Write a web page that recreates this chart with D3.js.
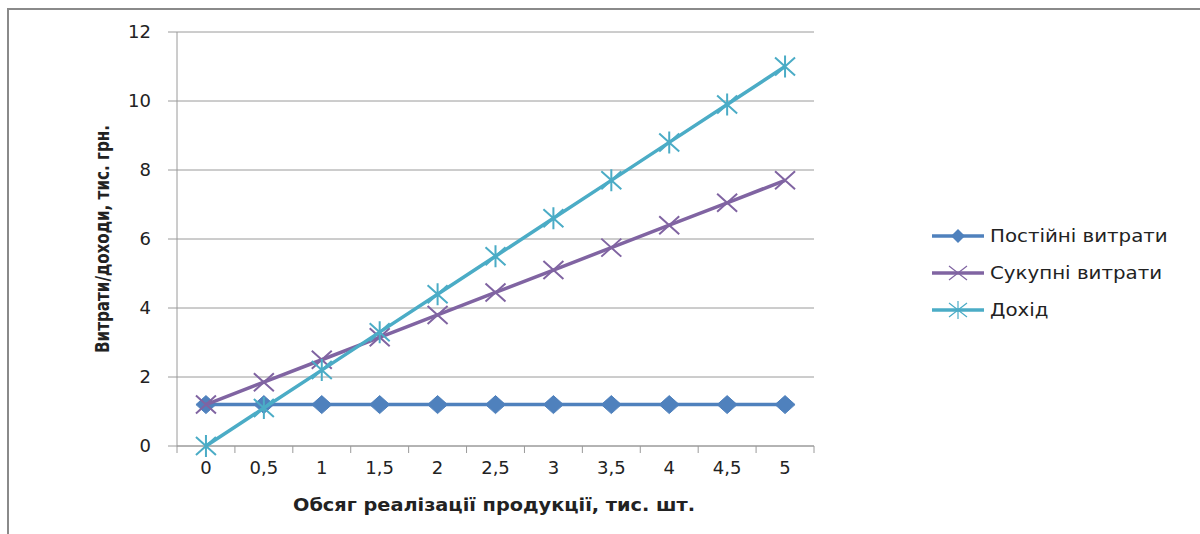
<!DOCTYPE html>
<html>
<head>
<meta charset="utf-8">
<script src="https://cdn.jsdelivr.net/npm/d3@7"></script>
<style>
  body { margin: 0; background: #fff; }
  text { font-family: "DejaVu Sans", sans-serif; fill: #222; }
  .grid line { stroke: #9a9a9a; stroke-width: 1px; }
  .axis path, .axis line { stroke: #9a9a9a; }
  .axis text { font-size: 18px; font-family: "DejaVu Sans", sans-serif; fill: #222; }
  .ttl { font-weight: bold; }
</style>
</head>
<body>
<svg width="1200" height="534"></svg>
<script>
var categories = ["0", "0,5", "1", "1,5", "2", "2,5", "3", "3,5", "4", "4,5", "5"];
var fixedCosts = [1.2, 1.2, 1.2, 1.2, 1.2, 1.2, 1.2, 1.2, 1.2, 1.2, 1.2];
var totalCosts = [1.2, 1.85, 2.5, 3.15, 3.8, 4.45, 5.1, 5.75, 6.4, 7.05, 7.7];
var revenue = [0, 1.1, 2.2, 3.3, 4.4, 5.5, 6.6, 7.7, 8.8, 9.9, 11];
var yTicks = [0, 2, 4, 6, 8, 10, 12];
var seriesNames = ["Постійні витрати", "Сукупні витрати", "Дохід"];

var series = [
  { name: seriesNames[0], values: fixedCosts, color: "#4f81bd", marker: "diamond" },
  { name: seriesNames[1], values: totalCosts, color: "#8064a2", marker: "cross" },
  { name: seriesNames[2], values: revenue, color: "#4bacc6", marker: "star" }
];

var svg = d3.select("svg");

// outer frame (only top and left edges visible)
svg.append("path")
  .attr("d", "M8,534 L8,9 L1200,9")
  .attr("fill", "none")
  .attr("stroke", "#8a8a8a")
  .attr("stroke-width", 2);

var pLeft = 177, pRight = 814, pTop = 32, pBottom = 446;

var x = d3.scaleBand().domain(categories).range([pLeft, pRight]);
var y = d3.scaleLinear().domain([0, 12]).range([pBottom, pTop]);

// gridlines
svg.append("g").attr("class", "grid")
  .selectAll("line").data(yTicks).enter().append("line")
  .attr("x1", pLeft - 9).attr("x2", pRight)
  .attr("y1", function(d) { return y(d); })
  .attr("y2", function(d) { return y(d); });

// y axis
var yAxis = svg.append("g").attr("class", "axis")
  .attr("transform", "translate(" + pLeft + ",0)")
  .call(d3.axisLeft(y).tickValues(yTicks).tickSize(0).tickPadding(26));
yAxis.select(".domain").attr("d", "M0," + pTop + "V" + pBottom);

// x axis with ticks at category boundaries
var xAxis = svg.append("g").attr("class", "axis")
  .attr("transform", "translate(0," + pBottom + ")")
  .call(d3.axisBottom(x).tickSize(0).tickPadding(15));
xAxis.select(".domain").attr("d", "M" + pLeft + ",0H" + pRight);
xAxis.selectAll("text").attr("dy", "0.72em");
var bounds = categories.map(function(c) { return x(c); }).concat([pRight]);
xAxis.selectAll("line.b").data(bounds).enter().append("line")
  .attr("class", "b")
  .attr("x1", function(d) { return d; }).attr("x2", function(d) { return d; })
  .attr("y1", 0).attr("y2", 7);

// axis titles
svg.append("text").attr("class", "ttl")
  .attr("x", 494).attr("y", 511)
  .attr("text-anchor", "middle")
  .style("font-size", "18px")
  .attr("textLength", 402).attr("lengthAdjust", "spacingAndGlyphs")
  .text("Обсяг реалізації продукції, тис. шт.");

svg.append("text").attr("class", "ttl")
  .attr("transform", "translate(109,239) rotate(-90)")
  .attr("text-anchor", "middle")
  .style("font-size", "20px")
  .attr("textLength", 228).attr("lengthAdjust", "spacingAndGlyphs")
  .text("Витрати/доходи, тис. грн.");

function drawMarker(g, type, color) {
  if (type === "diamond") {
    g.append("path").attr("d", "M0,-9 L10,0 L0,9 L-10,0 Z")
      .attr("fill", color).attr("stroke", color).attr("stroke-width", 1);
  } else if (type === "cross") {
    g.append("path").attr("d", "M-10,-9 L10,9 M-10,9 L10,-9")
      .attr("stroke", color).attr("stroke-width", 2).attr("fill", "none");
  } else {
    g.append("path").attr("d", "M-10,-9 L10,9 M-10,9 L10,-9 M0,-11 L0,11")
      .attr("stroke", color).attr("stroke-width", 2).attr("fill", "none");
  }
}

var line = d3.line()
  .x(function(d, i) { return x(categories[i]) + x.bandwidth() / 2; })
  .y(function(d) { return y(d); });

series.forEach(function(s) {
  var g = svg.append("g");
  g.append("path")
    .attr("d", line(s.values))
    .attr("fill", "none")
    .attr("stroke", s.color)
    .attr("stroke-width", 3.5)
    .attr("stroke-linejoin", "round");
  s.values.forEach(function(v, i) {
    var m = g.append("g")
      .attr("transform", "translate(" + (x(categories[i]) + x.bandwidth() / 2) + "," + y(v) + ")");
    drawMarker(m, s.marker, s.color);
  });
});

// legend
var legend = svg.append("g").attr("transform", "translate(932,236)");
series.forEach(function(s, i) {
  var row = legend.append("g").attr("transform", "translate(0," + (i * 37) + ")");
  row.append("line").attr("x1", 0).attr("x2", 52).attr("y1", 0).attr("y2", 0)
    .attr("stroke", s.color).attr("stroke-width", 3.5);
  var m = row.append("g").attr("transform", "translate(26,0)");
  if (s.marker === "diamond") {
    m.append("path").attr("d", "M0,-7 L7,0 L0,7 L-7,0 Z").attr("fill", s.color);
  } else {
    m.append("path")
      .attr("d", s.marker === "cross" ? "M-9,-7 L9,7 M-9,7 L9,-7" : "M-9,-7 L9,7 M-9,7 L9,-7 M0,-9 L0,9")
      .attr("stroke", s.color).attr("stroke-width", 1.2).attr("fill", "none");
  }
  var t = row.append("text").attr("x", 58).attr("dy", "0.35em")
    .style("font-size", "18px")
    .text(s.name);
  // reference glyphs are a little wider than DejaVu
  var w = t.node().getComputedTextLength();
  t.attr("textLength", w * 1.1).attr("lengthAdjust", "spacingAndGlyphs");
});
</script>
</body>
</html>
